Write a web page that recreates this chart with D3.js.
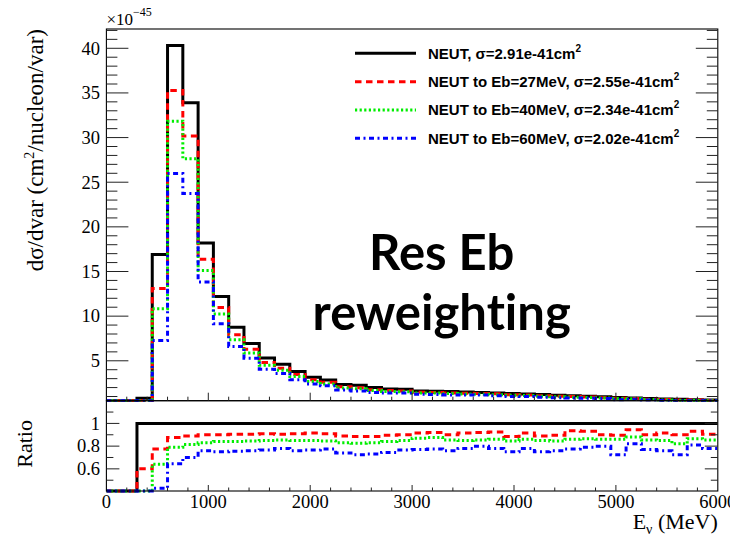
<!DOCTYPE html>
<html>
<head>
<meta charset="utf-8">
<script src="https://cdn.jsdelivr.net/npm/d3@7"></script>
<style>
  body { margin: 0; background: #fff; }
  svg { display: block; }
  text { font-variant-ligatures: none; font-feature-settings: "liga" 0; }
</style>
</head>
<body>
<svg id="chart" width="730" height="542"></svg>
<script>
// Neutrino energy binning: 40 bins of 150 MeV between 0 and 6000 MeV
const binEdges = d3.range(0, 6001, 150);

// dσ/dvar per bin, in units of 1e-45 cm²/nucleon/var
const neut = [0, 0, 0.8, 16.9, 40.3, 33.9, 18.2, 12.2, 8.75, 6.95,
  5.3, 4.6, 3.8, 3.15, 2.85, 2.35, 2.25, 2.0, 1.85, 1.8,
  1.61, 1.58, 1.55, 1.5, 1.45, 1.4, 1.35, 1.28, 1.22, 1.15,
  1.08, 1.02, 0.96, 0.9, 0.84, 0.78, 0.73, 0.68, 0.64, 0.6];
const eb27 = [0, 0, 0.48, 13.1, 35.26, 30.17, 16.38, 10.98, 7.92, 6.29,
  4.82, 4.16, 3.46, 2.88, 2.59, 2.09, 1.99, 1.77, 1.66, 1.62,
  1.47, 1.45, 1.4, 1.37, 1.33, 1.3, 1.19, 1.17, 1.09, 1.03,
  1.01, 0.95, 0.86, 0.81, 0.79, 0.7, 0.67, 0.61, 0.6, 0.54];
const eb40 = [0, 0, 0, 10.82, 31.84, 27.63, 15.11, 10.25, 7.35, 5.87,
  4.51, 3.93, 3.23, 2.68, 2.41, 1.95, 1.86, 1.66, 1.55, 1.53,
  1.4, 1.38, 1.33, 1.28, 1.24, 1.2, 1.14, 1.1, 1.04, 0.97,
  0.93, 0.88, 0.83, 0.77, 0.74, 0.67, 0.62, 0.56, 0.55, 0.51];
const eb60 = [0, 0, 0, 7.27, 25.99, 23.73, 13.83, 9.15, 6.61, 5.28,
  4.05, 3.59, 2.89, 2.41, 2.21, 1.74, 1.63, 1.46, 1.38, 1.38,
  1.24, 1.22, 1.18, 1.17, 1.16, 1.09, 1.01, 1.0, 0.92, 0.87,
  0.84, 0.81, 0.77, 0.65, 0.69, 0.6, 0.55, 0.49, 0.52, 0.47];

// Ratio of each sample to nominal NEUT, per bin
const ratioNeut = [0, 0, 1, 1, 1, 1, 1, 1, 1, 1,
  1, 1, 1, 1, 1, 1, 1, 1, 1, 1,
  1, 1, 1, 1, 1, 1, 1, 1, 1, 1,
  1, 1, 1, 1, 1, 1, 1, 1, 1, 1];
const ratio27 = [0, 0, 0.6, 0.775, 0.875, 0.89, 0.9, 0.9, 0.905, 0.905,
  0.91, 0.905, 0.91, 0.915, 0.91, 0.89, 0.885, 0.885, 0.895, 0.9,
  0.915, 0.92, 0.9, 0.915, 0.92, 0.925, 0.885, 0.915, 0.89, 0.895,
  0.935, 0.93, 0.9, 0.895, 0.945, 0.9, 0.915, 0.9, 0.93, 0.905];
const ratio40 = [0, 0, 0, 0.64, 0.79, 0.815, 0.83, 0.84, 0.84, 0.845,
  0.85, 0.855, 0.85, 0.85, 0.845, 0.83, 0.825, 0.83, 0.84, 0.85,
  0.87, 0.875, 0.855, 0.85, 0.855, 0.86, 0.845, 0.86, 0.85, 0.845,
  0.86, 0.865, 0.86, 0.86, 0.88, 0.855, 0.85, 0.82, 0.865, 0.855];
const ratio60 = [0, 0, 0, 0.43, 0.645, 0.7, 0.76, 0.75, 0.755, 0.76,
  0.765, 0.78, 0.76, 0.765, 0.775, 0.74, 0.725, 0.73, 0.745, 0.765,
  0.77, 0.775, 0.76, 0.78, 0.8, 0.78, 0.75, 0.78, 0.75, 0.76,
  0.775, 0.79, 0.8, 0.725, 0.82, 0.77, 0.76, 0.725, 0.81, 0.78];

// Legend text
const seriesNames = ["NEUT", "NEUT to Eb=27MeV", "NEUT to Eb=40MeV", "NEUT to Eb=60MeV"];
const sigmaValues = ["2.91e-41", "2.55e-41", "2.34e-41", "2.02e-41"];

// Axis tick values
const xMajorTicks = [0, 1000, 2000, 3000, 4000, 5000, 6000];
const yMainTicks = [5, 10, 15, 20, 25, 30, 35, 40];
const yRatioTicks = [0.6, 0.8, 1];

// Line styles per series
const styles = [
  { color: "#000000", dash: null },
  { color: "#ff0000", dash: "6.5,4.5" },
  { color: "#00ee00", dash: "2.2,2.4" },
  { color: "#0000ff", dash: "5,3.5,2,3.5" }
];

const svg = d3.select("#chart");
const serif = "'Liberation Serif', 'Times New Roman', serif";

const x = d3.scaleLinear([0, 6000], [106.4, 717.8]);
const yTop = d3.scaleLinear([0.53, 42.16], [400.7, 29]);
const yRat = d3.scaleLinear([0.405, 1.2], [491, 400.7]);

const [xl, xr] = x.range();

// Step outline of a histogram, values clamped to the visible range
function stepPath(vals, y) {
  const [lo, hi] = y.domain();
  const p = d3.path();
  vals.forEach((v, i) => {
    const yy = y(Math.max(lo, Math.min(hi, v)));
    const x0 = x(binEdges[i]), x1 = x(binEdges[i + 1]);
    if (i === 0) p.moveTo(x0, yy); else p.lineTo(x0, yy);
    p.lineTo(x1, yy);
  });
  return p.toString();
}

const defs = svg.append("defs");
defs.append("clipPath").attr("id", "clipTop").append("rect")
  .attr("x", xl).attr("y", yTop.range()[1])
  .attr("width", xr - xl).attr("height", yTop.range()[0] - yTop.range()[1] + 1);
defs.append("clipPath").attr("id", "clipRat").append("rect")
  .attr("x", xl).attr("y", yRat.range()[1])
  .attr("width", xr - xl).attr("height", yRat.range()[0] - yRat.range()[1] + 2);

// ---- histograms ----
const topSeries = [neut, eb27, eb40, eb60];
const ratioSeries = [ratioNeut, ratio27, ratio40, ratio60];

const gTop = svg.append("g").attr("clip-path", "url(#clipTop)");
topSeries.forEach((vals, i) => {
  gTop.append("path")
    .attr("d", stepPath(vals, yTop))
    .attr("fill", "none")
    .attr("stroke", styles[i].color)
    .attr("stroke-width", 3)
    .attr("stroke-dasharray", styles[i].dash)
    .attr("stroke-linejoin", "miter");
});

const gRat = svg.append("g").attr("clip-path", "url(#clipRat)");
ratioSeries.forEach((vals, i) => {
  gRat.append("path")
    .attr("d", stepPath(vals, yRat))
    .attr("fill", "none")
    .attr("stroke", styles[i].color)
    .attr("stroke-width", 3)
    .attr("stroke-dasharray", styles[i].dash)
    .attr("stroke-linejoin", "miter");
});

// ---- frames ----
const frame = svg.append("g").attr("fill", "none").attr("stroke", "#000").attr("stroke-width", 1.1);
frame.append("rect").attr("x", xl).attr("y", yTop.range()[1])
  .attr("width", xr - xl).attr("height", yTop.range()[0] - yTop.range()[1]);
frame.append("rect").attr("x", xl).attr("y", yRat.range()[1])
  .attr("width", xr - xl).attr("height", yRat.range()[0] - yRat.range()[1]);

// ---- ticks ----
const tickG = svg.append("g").attr("stroke", "#222").attr("stroke-width", 1);
function hTick(yv, x0, len) {
  tickG.append("line").attr("x1", x0).attr("x2", x0 + len).attr("y1", yv).attr("y2", yv);
}
function vTick(xv, y0, len) {
  tickG.append("line").attr("x1", xv).attr("x2", xv).attr("y1", y0).attr("y2", y0 - len);
}

// main panel y ticks: minor every 1, major every 5
d3.range(1, 43).forEach(v => {
  const major = v % 5 === 0;
  if (yTop(v) < yTop.range()[1] || yTop(v) > yTop.range()[0]) return;
  hTick(yTop(v), xl, major ? 22 : 11);
  hTick(yTop(v), xr, major ? -22 : -11);
});
// ratio panel y ticks: minor every 0.1, major every 0.2
d3.range(5, 12).forEach(k => {
  const v = k / 10;
  const major = k % 2 === 0;
  hTick(yRat(v), xl, major ? 13 : 7);
  hTick(yRat(v), xr, major ? -13 : -7);
});
// x ticks: minor every 200 MeV
d3.range(0, 6001, 200).forEach(v => {
  const major = v % 1000 === 0;
  if (v === 0 || v === 6000) return;
  vTick(x(v), yTop.range()[0], major ? 8 : 4);
  vTick(x(v), yRat.range()[0], major ? 6 : 3.5);
});

// ---- tick labels ----
const labG = svg.append("g").attr("font-family", serif).attr("font-size", 18.5).attr("fill", "#000");
yMainTicks.forEach(v => {
  labG.append("text").attr("x", 100).attr("y", yTop(v)).attr("dy", "0.34em")
    .attr("text-anchor", "end").text(v);
});
yRatioTicks.forEach(v => {
  labG.append("text").attr("x", 100).attr("y", yRat(v)).attr("dy", "0.34em")
    .attr("text-anchor", "end").text(v);
});
xMajorTicks.forEach(v => {
  labG.append("text").attr("x", x(v)).attr("y", 508)
    .attr("text-anchor", "middle").text(v);
});

// exponent of the y axis
const expo = svg.append("text").attr("x", xl).attr("y", 25)
  .attr("font-family", serif).attr("font-size", 17);
expo.append("tspan").text("×10");
expo.append("tspan").attr("dy", -9).attr("font-size", 12).text("−45");

// ---- axis titles ----
const yTitle = svg.append("text")
  .attr("transform", `translate(43,${yTop.range()[1]}) rotate(-90)`)
  .attr("text-anchor", "end")
  .attr("font-family", serif).attr("font-size", 23);
yTitle.append("tspan").text("dσ/dvar (cm");
yTitle.append("tspan").attr("font-size", 14).attr("dy", -9).text("2");
yTitle.append("tspan").attr("dy", 9).text("/nucleon/var)");

svg.append("text")
  .attr("transform", `translate(32,${(yRat.range()[0] + yRat.range()[1]) / 2 - 2}) rotate(-90)`)
  .attr("text-anchor", "middle")
  .attr("font-family", serif).attr("font-size", 22)
  .text("Ratio");

const xTitle = svg.append("text").attr("x", xr).attr("y", 529)
  .attr("text-anchor", "end").attr("font-family", serif).attr("font-size", 22);
xTitle.append("tspan").text("E");
xTitle.append("tspan").attr("font-size", 14).attr("dy", 5).text("ν");
xTitle.append("tspan").attr("dy", -5).text(" (MeV)");

// ---- legend ----
const legY = d3.scaleLinear([0, 3], [53.3, 138.3]);
const leg = svg.append("g");
seriesNames.forEach((name, i) => {
  const yy = legY(i);
  leg.append("line").attr("x1", 355).attr("x2", 416).attr("y1", yy).attr("y2", yy)
    .attr("stroke", styles[i].color).attr("stroke-width", 3)
    .attr("stroke-dasharray", styles[i].dash);
  const t = leg.append("text").attr("x", 428).attr("y", yy).attr("dy", "0.36em")
    .attr("font-family", "'Liberation Sans', Arial, sans-serif")
    .attr("font-weight", "bold").attr("font-size", 15);
  t.append("tspan").text(`${name}, σ=${sigmaValues[i]}cm`);
  t.append("tspan").attr("font-size", 10).attr("dy", -7).text("2");
});

// ---- annotation ----
const note = svg.append("text")
  .attr("font-family", "Lato, 'Open Sans', sans-serif")
  .attr("font-weight", "bold").attr("font-size", 49)
  .attr("text-anchor", "middle").attr("fill", "#000");
note.append("tspan").attr("x", 441.7).attr("y", 270).text("Res Eb");
note.append("tspan").attr("x", 441.7).attr("y", 330).text("reweighting");
</script>
</body>
</html>
